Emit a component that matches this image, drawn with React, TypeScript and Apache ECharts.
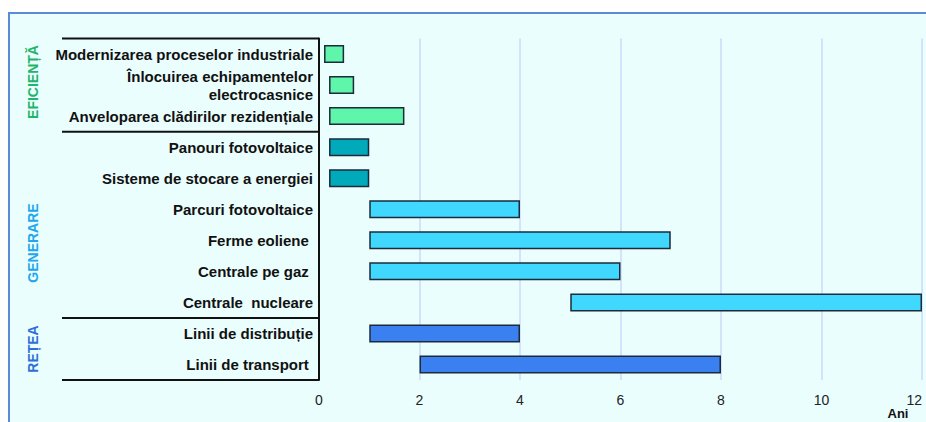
import React, { useEffect, useRef } from "react";
import * as echarts from "echarts";

const categories = [
  "Modernizarea proceselor industriale",
  "Înlocuirea echipamentelor\nelectrocasnice",
  "Anveloparea clădirilor rezidențiale",
  "Panouri fotovoltaice",
  "Sisteme de stocare a energiei",
  "Parcuri fotovoltaice",
  "Ferme eoliene ",
  "Centrale pe gaz ",
  "Centrale  nucleare",
  "Linii de distribuție",
  "Linii de transport ",
];
const startYears = [0.1, 0.2, 0.2, 0.2, 0.2, 1, 1, 1, 5, 1, 2];
const endYears = [0.5, 0.7, 1.7, 1, 1, 4, 7, 6, 12, 4, 8];
const barColors = [
  "#5ff5aa", "#5ff5aa", "#5ff5aa",
  "#00aabb", "#00aabb",
  "#40d8ff", "#40d8ff", "#40d8ff", "#40d8ff",
  "#3b80f0", "#3b80f0",
];
const xTicks = [0, 2, 4, 6, 8, 10, 12];
const groups = [
  { label: "EFICIENȚĂ", color: "#1fb56a", y: 82 },
  { label: "GENERARE", color: "#22a7ee", y: 243 },
  { label: "REȚEA", color: "#2f6fd8", y: 349 },
];
const separatorsAfter = [-1, 2, 8, 10];

const FONT = "Arial, 'Liberation Sans', sans-serif";

export default function App() {
  const ref = useRef<HTMLDivElement>(null);
  useEffect(() => {
    if (!ref.current) return;
    const chart = echarts.init(ref.current, null, { renderer: "svg", width: 926, height: 422 });
    const durations = endYears.map((e, i) => +(e - startYears[i]).toFixed(2));
    chart.setOption({
      animation: false,
      backgroundColor: "#ffffff",
      graphic: [
        {
          id: "box",
          type: "rect",
          z: -10,
          silent: true,
          shape: { x: 9, y: 13, width: 940, height: 440 },
          style: { fill: "#ebfefe", stroke: "#5b8ad6", lineWidth: 2 },
        },
        ...groups.map((g, i) => ({
          id: "grp" + i,
          type: "text",
          x: 33,
          y: g.y,
          rotation: Math.PI / 2,
          style: {
            text: g.label,
            fill: g.color,
            font: `bold 14px ${FONT}`,
            align: "center",
            verticalAlign: "middle",
          },
        })),
      ],
      grid: {
        left: 319,
        right: 4,
        top: 38.5,
        bottom: 42,
        containLabel: false,
        outerBoundsMode: "none",
      },
      xAxis: {
        type: "value",
        min: 0,
        max: 12,
        interval: 2,
        name: "Ani",
        nameLocation: "end",
        nameGap: -24,
        nameTextStyle: {
          fontFamily: FONT,
          fontWeight: "bold",
          fontSize: 13,
          color: "#111",
          align: "center",
          verticalAlign: "top",
          padding: [27, 0, 0, 0],
        },
        axisLine: { show: false },
        axisTick: { show: false },
        axisLabel: {
          fontFamily: FONT,
          fontSize: 14,
          color: "#222",
          margin: 13,
          alignMaxLabel: "right",
          formatter: (v: number) => (xTicks.includes(v) ? String(v) : ""),
        },
        splitLine: { show: true, lineStyle: { color: "#d3e3fb", width: 2 } },
      },
      yAxis: {
        type: "category",
        inverse: true,
        data: categories,
        axisLine: { show: true, lineStyle: { color: "#111", width: 2 } },
        axisTick: { show: false },
        splitLine: { show: false },
        axisLabel: {
          fontFamily: FONT,
          fontWeight: "bold",
          fontSize: 15,
          color: "#111",
          margin: 6,
          lineHeight: 18,
          interval: 0,
        },
      },
      series: [
        {
          type: "bar",
          stack: "t",
          data: startYears,
          itemStyle: { color: "transparent" },
          silent: true,
          barWidth: 18,
        },
        {
          type: "bar",
          stack: "t",
          barWidth: 18,
          data: durations.map((d, i) => ({
            value: d,
            itemStyle: { color: barColors[i] },
          })),
          itemStyle: { borderColor: "#1b2b3b", borderWidth: 1.5 },
        },
      ],
    });

    const pix = (i: number) =>
      chart.convertToPixel({ yAxisIndex: 0 }, categories[i]) as number;
    const band = pix(1) - pix(0);
    const axisX = chart.convertToPixel({ xAxisIndex: 0 }, 0) as number;
    const lines = separatorsAfter.map((idx, k) => {
      const y = idx < 0 ? pix(0) - band / 2 : pix(idx) + band / 2;
      return {
        id: "sep" + k,
        type: "line",
        silent: true,
        shape: { x1: 62, y1: y, x2: axisX, y2: y },
        style: { stroke: "#111", lineWidth: 2 },
      };
    });
    chart.setOption({ graphic: lines });

    return () => chart.dispose();
  }, []);
  return (
    <div
      ref={ref}
      style={{ position: "fixed", left: 0, top: 0, width: 926, height: 422 }}
    />
  );
}
